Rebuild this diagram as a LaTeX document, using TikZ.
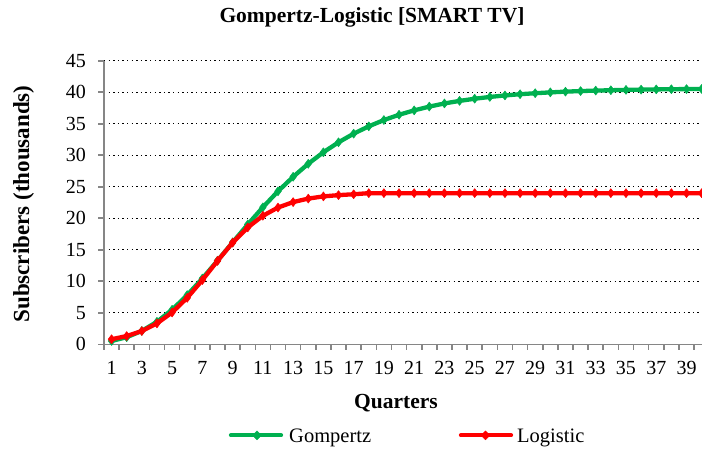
\documentclass[tikz,border=0pt]{standalone}
\usepackage{fontspec}
\setmainfont{Liberation Serif}
\usetikzlibrary{plotmarks}
\definecolor{gomp}{RGB}{0,176,80}
\definecolor{logi}{RGB}{255,0,0}
\definecolor{axisgray}{RGB}{134,134,134}
\tikzset{
  gridline/.style={black, line width=1.4pt, dash pattern=on 1.4pt off 3.2pt},
  axisline/.style={axisgray, line width=1.6pt},
  ticklabel/.style={font=\fontsize{20}{22}\selectfont, inner sep=0pt},
  boldlabel/.style={font=\bfseries\fontsize{21.5}{23}\selectfont, inner sep=0pt, anchor=base},
  series/.style={line width=4.3pt, line join=round, line cap=round},
  legtext/.style={font=\fontsize{20.5}{22}\selectfont, inner sep=0pt, anchor=base west}
}
\begin{document}
\begin{tikzpicture}[x=1pt,y=1pt]
\useasboundingbox (0,0) rectangle (702,451);
\clip (0,0) rectangle (702,451);
\node[boldlabel] (title) at (372,428.3) {Gompertz-Logistic [SMART TV]};
\node[boldlabel, font=\bfseries\fontsize{23}{24}\selectfont, rotate=90] (ylab) at (29,247) {Subscribers (thousands)};
\node[boldlabel] (xlab) at (396,42.7) {Quarters};
\begin{scope}[shift={(104,106.7)}, x=15.13pt, y=6.302pt]
  \foreach \v in {5,10,...,45} {
    \draw[gridline] (0,\v) -- (41,\v);
  }
  \foreach \v in {0,5,...,45} {
    \draw[axisline] (0,\v) -- ++(-6pt,0);
    \node[ticklabel, anchor=east] (yl\v) at ([xshift=-18pt]0,\v) {\v};
  }
  \foreach \k in {0,...,41} {
    \draw[axisline] (\k,0) -- ++(0,-6pt);
  }
  \foreach \k in {1,3,...,39} {
    \node[ticklabel, anchor=base] (xl\k) at ([yshift=-30pt]\k-0.5,0) {\k};
  }
  \draw[axisline] (0,0) -- (0,45);
  \draw[axisline] (0,0) -- (41,0);
  \draw[series, gomp, mark=diamond*, mark size=4.5pt, mark options={solid, fill=gomp, draw=gomp, line width=0.5pt}]
    plot[samples at={1,...,41}] ({\x-0.5}, {40.6*exp(-5.28*exp(-0.194*\x))});
  \draw[series, logi, mark=diamond*, mark size=4.5pt, mark options={solid, fill=logi, draw=logi, line width=0.5pt}]
    plot[samples at={1,...,41}] ({\x-0.5}, {24/(1+47.9*exp(-0.509*\x))});
\end{scope}
\coordinate (g1) at (231,15.7);
\coordinate (g2) at (281,15.7);
\draw[series, gomp] (g1) -- (g2);
\draw[gomp, fill=gomp] (257,20.2) -- (261.5,15.7) -- (257,11.2) -- (252.5,15.7) -- cycle;
\node[legtext] (gt) at (289,8.3) {Gompertz};
\coordinate (l1) at (461,15.7);
\coordinate (l2) at (511,15.7);
\draw[series, logi] (l1) -- (l2);
\draw[logi, fill=logi] (485.5,20.2) -- (490,15.7) -- (485.5,11.2) -- (481,15.7) -- cycle;
\node[legtext] (lt) at (517,8.3) {Logistic};
\end{tikzpicture}
\end{document}
